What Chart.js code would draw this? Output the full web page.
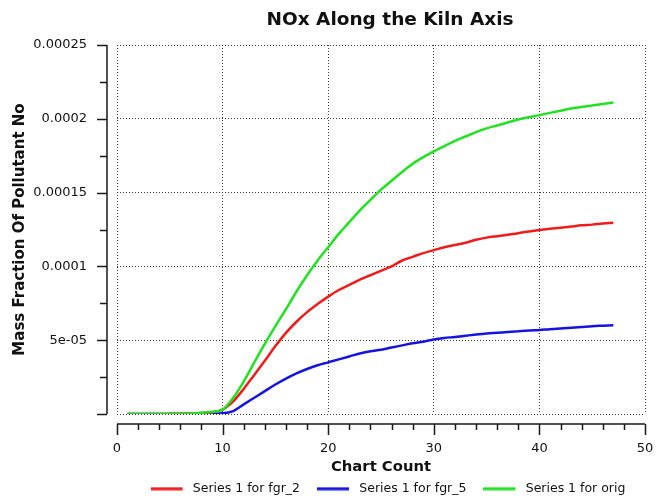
<!DOCTYPE html>
<html>
<head>
<meta charset="utf-8">
<title>NOx Along the Kiln Axis</title>
<script src="https://cdn.jsdelivr.net/npm/chart.js@4.4.1/dist/chart.umd.min.js"></script>
<style>
  html, body { margin: 0; padding: 0; background: #fff; }
  #wrap { width: 657px; height: 499px; }
</style>
</head>
<body>
<div id="wrap"><canvas id="nox-chart" width="657" height="499"></canvas></div>
<script>
// chart count along the kiln axis
const counts = [1, 2, 3, 4, 5, 6, 7, 8, 9, 10,
    11, 12, 13, 14, 15, 16, 17, 18, 19, 20,
    21, 22, 23, 24, 25, 26, 27, 28, 29, 30,
    31, 32, 33, 34, 35, 36, 37, 38, 39, 40,
    41, 42, 43, 44, 45, 46, 47];

// mass fraction of pollutant NO, in units of 1e-4
const UNIT = 1e-4;
const fgr2 = [0, 0, 0, 0, 0.001, 0.002, 0.004, 0.007, 0.012, 0.03,
    0.085, 0.17, 0.265, 0.36, 0.46, 0.55, 0.625, 0.69, 0.745, 0.795,
    0.84, 0.875, 0.91, 0.94, 0.97, 1.0, 1.04, 1.065, 1.09, 1.11,
    1.13, 1.145, 1.16, 1.18, 1.195, 1.205, 1.215, 1.225, 1.237, 1.247,
    1.255, 1.262, 1.27, 1.278, 1.283, 1.29, 1.296];
const fgr5 = [0, 0, 0, 0, 0, 0, 0.001, 0.002, 0.003, 0.005,
    0.02, 0.065, 0.11, 0.155, 0.2, 0.24, 0.275, 0.305, 0.33, 0.35,
    0.37, 0.39, 0.41, 0.425, 0.435, 0.45, 0.465, 0.48, 0.49, 0.505,
    0.515, 0.522, 0.53, 0.538, 0.545, 0.55, 0.555, 0.56, 0.565, 0.569,
    0.575, 0.58, 0.585, 0.59, 0.595, 0.598, 0.601];
const orig = [0, 0, 0, 0, 0.001, 0.002, 0.004, 0.008, 0.015, 0.03,
    0.11, 0.22, 0.35, 0.475, 0.595, 0.71, 0.83, 0.94, 1.04, 1.13,
    1.22, 1.30, 1.38, 1.45, 1.52, 1.58, 1.64, 1.695, 1.74, 1.78,
    1.815, 1.85, 1.88, 1.91, 1.935, 1.955, 1.975, 1.995, 2.01, 2.025,
    2.04, 2.055, 2.07, 2.08, 2.09, 2.10, 2.11];

const seriesNames = ['Series 1 for fgr_2', 'Series 1 for fgr_5', 'Series 1 for orig'];
const xTickLabels = ['0', '10', '20', '30', '40', '50'];
const yTickLabels = ['', '5e-05', '0.0001', '0.00015', '0.0002', '0.00025'];

const FONT = "'DejaVu Sans', Verdana, sans-serif";
const toPoints = vals => counts.map((c, i) => ({ x: c, y: vals[i] * UNIT }));

function line(label, vals, color, order) {
    return {
        label,
        data: toPoints(vals),
        borderColor: color,
        backgroundColor: color,
        borderWidth: 2.5,
        pointRadius: 0,
        cubicInterpolationMode: 'monotone',
        order
    };
}

// legend swatch: a short line with some room before the label
function swatch(color) {
    const c = document.createElement('canvas');
    c.width = 36; c.height = 4;
    const g = c.getContext('2d');
    g.fillStyle = color;
    g.fillRect(0, 0.5, 32, 3);
    return c;
}

// offset axis lines with major + minor tick marks, drawn off the scales
const offsetAxes = {
    id: 'offsetAxes',
    afterLayout(chart) {
        // title and legend sit a little right of the plot centre in the original
        if (chart.titleBlock) { chart.titleBlock.left += 9; chart.titleBlock.right += 9; }
        if (chart.legend) { chart.legend.left += 7; chart.legend.right += 7; }
    },
    afterDraw(chart) {
        const { ctx, chartArea: a, scales: { x, y } } = chart;
        const ax = a.left - 10, ay = a.bottom + 10;
        ctx.save();
        ctx.strokeStyle = '#1a1a1a';
        ctx.lineWidth = 1.5;
        ctx.beginPath();
        ctx.moveTo(ax, a.top); ctx.lineTo(ax, a.bottom);
        ctx.moveTo(a.left, ay); ctx.lineTo(a.right, ay);
        for (let v = y.min; v <= y.max + 1e-12; v += 0.25 * UNIT) {
            const py = Math.round(y.getPixelForValue(v)) + 0.5;
            const major = Math.abs(v / (0.5 * UNIT) - Math.round(v / (0.5 * UNIT))) < 1e-6;
            ctx.moveTo(ax, py); ctx.lineTo(ax - (major ? 10 : 7), py);
        }
        for (let v = x.min; v <= x.max; v += 2) {
            const px = Math.round(x.getPixelForValue(v)) + 0.5;
            ctx.moveTo(px, ay); ctx.lineTo(px, ay + (v % 10 === 0 ? 11 : 6));
        }
        ctx.stroke();
        ctx.restore();
    }
};

new Chart(document.getElementById('nox-chart'), {
    type: 'line',
    data: {
        datasets: [
            line(seriesNames[0], fgr2, '#ee1c1c', 1),
            line(seriesNames[1], fgr5, '#1414dc', 2),
            line(seriesNames[2], orig, '#22e022', 0)
        ]
    },
    options: {
        responsive: false,
        animation: false,
        events: [],
        layout: { padding: { left: 0, right: 12, top: 0, bottom: -6 } },
        plugins: {
            title: {
                display: true,
                text: 'NOx Along the Kiln Axis',
                fullSize: false,
                color: '#111',
                font: { family: FONT, size: 18.5, weight: 'bold' },
                padding: { top: 9.5, bottom: 13.3 }
            },
            legend: {
                position: 'bottom',
                fullSize: false,
                labels: {
                    color: '#111',
                    font: { family: FONT, size: 12.5 },
                    usePointStyle: true,
                    pointStyleWidth: 36,
                    boxHeight: 4,
                    padding: 17,
                    sort: (a, b) => a.datasetIndex - b.datasetIndex,
                    generateLabels: chart => Chart.defaults.plugins.legend.labels.generateLabels(chart)
                        .map(l => Object.assign(l, { pointStyle: swatch(l.strokeStyle), lineWidth: 0 }))
                }
            },
            tooltip: { enabled: false }
        },
        scales: {
            x: {
                type: 'linear',
                min: 0,
                max: 50,
                afterFit: s => { s.height = 51.5; s.paddingLeft = 0; s.paddingRight = 0; },
                ticks: {
                    stepSize: 10,
                    padding: 27,
                    maxRotation: 0,
                    color: '#111',
                    font: { family: FONT, size: 13 },
                    callback: (v, i) => xTickLabels[i]
                },
                grid: { color: '#3a3a3a', lineWidth: 1, drawTicks: false },
                border: { display: false, dash: [1, 2] },
                title: {
                    display: true,
                    text: 'Chart Count',
                    color: '#111',
                    font: { family: FONT, size: 14.8, weight: 'bold' },
                    padding: { top: 0, bottom: -10.5 }
                }
            },
            y: {
                min: 0,
                max: 2.5 * UNIT,
                afterFit: s => { s.width = 117; s.paddingTop = 0; s.paddingBottom = 0; },
                ticks: {
                    stepSize: 0.5 * UNIT,
                    padding: 30,
                    color: '#111',
                    font: { family: FONT, size: 13 },
                    callback: (v, i) => yTickLabels[i]
                },
                grid: { color: '#3a3a3a', lineWidth: 1, drawTicks: false },
                border: { display: false, dash: [1, 2] },
                title: {
                    display: true,
                    text: 'Mass Fraction Of Pollutant No',
                    color: '#111',
                    font: { family: FONT, size: 15, weight: 'bold' },
                    padding: { top: 11, bottom: 0 }
                }
            }
        }
    },
    plugins: [offsetAxes]
});
</script>
</body>
</html>
